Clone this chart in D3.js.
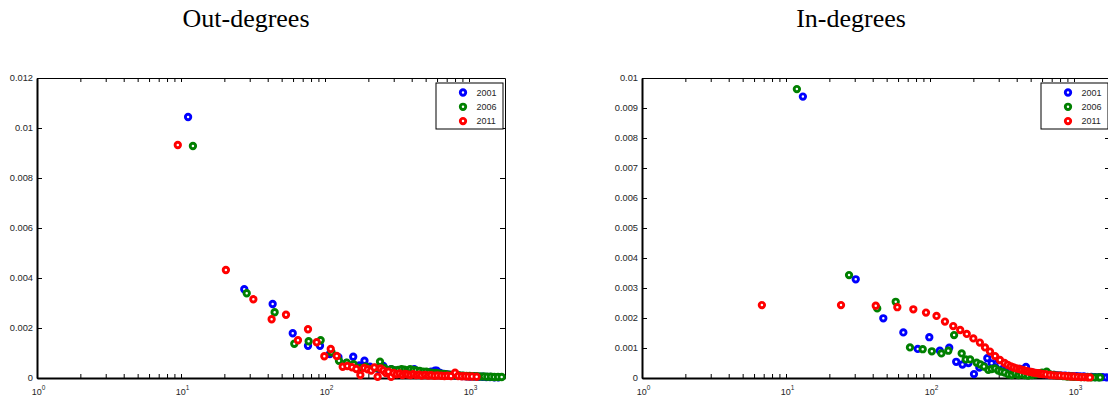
<!DOCTYPE html>
<html>
<head>
<meta charset="utf-8">
<script src="https://cdn.jsdelivr.net/npm/d3@7"></script>
<style>
  html, body { margin: 0; padding: 0; background: #fff; }
  svg { display: block; }
</style>
</head>
<body>
<svg id="chart" width="1108" height="396"></svg>
<script>
// ---------- data ----------
const years = ["2001", "2006", "2011"];
const colors = ["#0000ff", "#008000", "#ff0000"];
const titles = ["Out-degrees", "In-degrees"];
const xTickExponents = [0, 1, 2, 3];
const outYTicks = [0, 0.002, 0.004, 0.006, 0.008, 0.01, 0.012];
const outYTickLabels = ["0", "0.002", "0.004", "0.006", "0.008", "0.01", "0.012"];
const inYTicks = [0, 0.001, 0.002, 0.003, 0.004, 0.005, 0.006, 0.007, 0.008, 0.009, 0.01];
const inYTickLabels = ["0", "0.001", "0.002", "0.003", "0.004", "0.005", "0.006", "0.007", "0.008", "0.009", "0.01"];

// Out-degrees [degree, fraction]
const out2001 = [[11.2,0.01044],[27.5,0.00355],[43.3,0.00296],[59.7,0.00179],[76.2,0.00129],[92.3,0.00129],[108,0.00096],[124,0.00083],[141,0.0006],[157,0.00085],[173,0.0005],[188,0.00069],[205,0.00045],[221,0.0004],[237,0.00035],[254,0.00048],[270,0.0003],[287,0.00035],[303,0.0003],[320,0.00028],[340,0.00025],[360,0.00022],[380,0.00025],[400,0.00029],[417,0.00035],[440,0.00025],[465,0.00022],[490,0.0002],[515,0.00022],[545,0.00025],[580,0.00029],[597,0.00029],[630,0.0002],[670,0.00016],[710,0.00014],[750,0.00012],[800,0.0001],[850,0.00009],[900,0.00008],[960,0.00007],[1020,0.00006],[1090,0.00006],[1160,0.00005],[1240,0.00005],[1320,0.00004],[1400,0.00004],[1500,0.00003],[1600,0.00003]];
const out2006 = [[12.1,0.00928],[28.6,0.00339],[44.7,0.00263],[61.2,0.00137],[77,0.00147],[93.3,0.00151],[111,0.00103],[125,0.00069],[141.6,0.00061],[158,0.00055],[175,0.0004],[192,0.00045],[208,0.00035],[225,0.0004],[241,0.00065],[258,0.0004],[274,0.0003],[290,0.00035],[307,0.0003],[323,0.00032],[340,0.00035],[356,0.00033],[372,0.0003],[390,0.00035],[410,0.00032],[430,0.0003],[455,0.00028],[480,0.00025],[505,0.00025],[530,0.00022],[560,0.0002],[590,0.0002],[620,0.00018],[655,0.00016],[690,0.00015],[730,0.00013],[770,0.00012],[810,0.0001],[860,0.0001],[910,0.00009],[960,0.00008],[1010,0.00008],[1070,0.00007],[1130,0.00007],[1200,0.00006],[1270,0.00006],[1340,0.00005],[1420,0.00005],[1500,0.00004],[1590,0.00004],[1686,0.00004]];
const out2011 = [[9.5,0.00932],[20.5,0.00432],[31.8,0.00315],[42.6,0.00235],[53.6,0.00253],[64.9,0.00151],[76.2,0.00195],[87.5,0.00143],[98.9,0.00087],[109.6,0.00116],[120.6,0.00088],[132.7,0.00045],[143,0.00048],[154,0.00043],[165,0.00036],[176,0.00012],[187,0.0004],[198,0.00035],[209,0.0003],[220,0.00042],[232,0.00005],[243,0.00038],[254,0.0003],[265,0.0002],[276,0.00025],[288,0.00005],[300,0.0002],[315,0.00015],[330,0.00018],[345,0.00012],[360,0.00016],[375,0.00014],[392,0.00012],[410,0.00015],[430,0.00012],[450,0.00013],[470,0.0001],[495,0.00012],[520,0.0001],[545,0.00011],[575,0.00009],[605,0.0001],[640,0.00009],[675,0.00008],[710,0.00009],[750,0.00008],[800,0.00021],[840,0.00008],[890,0.00007],[940,0.00007],[990,0.00006],[1050,0.00006],[1130,0.00005]];

// In-degrees [degree, fraction]
const in2001 = [[13.1,0.00938],[30.5,0.00329],[47.4,0.00199],[65.3,0.00152],[82.2,0.00097],[98.9,0.00136],[117,0.00091],[136,0.00101],[152,0.00054],[168,0.00045],[185,0.0005],[202,0.00013],[220,0.00035],[236,0.0004],[250,0.00066],[268,0.00049],[285,0.00035],[300,0.0006],[320,0.0003],[340,0.00025],[360,0.00022],[380,0.0002],[400,0.00022],[420,0.0003],[440,0.00025],[464,0.00037],[490,0.0002],[520,0.00018],[550,0.00015],[580,0.00014],[615,0.00013],[650,0.00012],[690,0.0001],[730,0.0001],[770,0.00009],[820,0.00008],[870,0.00008],[920,0.00007],[980,0.00006],[1040,0.00006],[1100,0.00005],[1170,0.00005],[1240,0.00004],[1320,0.00004],[1400,0.00003],[1490,0.00003],[1580,0.00003],[1680,0.00002],[1780,0.00002]];
const in2006 = [[11.9,0.00963],[27.4,0.00343],[43,0.00232],[57.8,0.00254],[72.6,0.00102],[89,0.00096],[103,0.00089],[120,0.00082],[134,0.00091],[147,0.00143],[166,0.00082],[177,0.00062],[190,0.00062],[211,0.00051],[224,0.00045],[237,0.00038],[254,0.00027],[268,0.0003],[283,0.00032],[298,0.00025],[313,0.00021],[330,0.00018],[350,0.00012],[370,0.0001],[390,0.00015],[410,0.0001],[430,0.00012],[455,0.0001],[480,0.00008],[510,0.0001],[540,0.00012],[570,0.00015],[600,0.00018],[646,0.00021],[680,0.00012],[720,0.0001],[760,0.00008],[800,0.00008],[850,0.00006],[900,0.00005],[950,0.00005],[1000,0.00004],[1060,0.00004],[1120,0.00003],[1180,0.00003],[1250,0.00003],[1320,0.00002],[1400,0.00002],[1480,0.00002],[1520,0.00002]];
const in2011 = [[6.8,0.00243],[24.1,0.00243],[42,0.00241],[59.3,0.00236],[76.6,0.00229],[93.8,0.00218],[111,0.00207],[127,0.00188],[145,0.00173],[162,0.0016],[180,0.00147],[200,0.00132],[222,0.00118],[241,0.00102],[261,0.00088],[283,0.00073],[306,0.0006],[329,0.0005],[346,0.00044],[364,0.00039],[381,0.00035],[399,0.00032],[417,0.0003],[434,0.00027],[452,0.00025],[469,0.00023],[487,0.00021],[505,0.0002],[522,0.00018],[540,0.00017],[557,0.00016],[575,0.00015],[593,0.00014],[610,0.00013],[640,0.00012],[680,0.0001],[720,0.00009],[760,0.00008],[800,0.00008],[850,0.00007],[900,0.00006],[950,0.00005],[1000,0.00005],[1060,0.00004],[1120,0.00003],[1180,0.00003],[1240,0.00002],[1290,0.00002]];

// ---------- drawing ----------
const svg = d3.select("#chart");
const xMax = Math.pow(10, 3.25);
const tickFont = '"Liberation Sans", Arial, Helvetica, sans-serif';
const textColor = "#262626";
const markerR = 2.7, markerW = 2.9;

const panels = [
  { title: titles[0], titleX: 246, left: 37, right: 505, yMax: 0.012,
    yTicks: outYTicks, yLabels: outYTickLabels, series: [out2001, out2006, out2011],
    legendX: 436 },
  { title: titles[1], titleX: 851, left: 642, right: 1110, yMax: 0.01,
    yTicks: inYTicks, yLabels: inYTickLabels, series: [in2001, in2006, in2011],
    legendX: 1041 }
];
const plotTop = 78, plotBottom = 378;

// minor + major log ticks
const allXTicks = [];
xTickExponents.forEach(e => {
  for (let m = 1; m <= 9; m++) {
    const v = m * Math.pow(10, e);
    if (v <= xMax) allXTicks.push(v);
  }
});

panels.forEach(p => {
  const x = d3.scaleLog().domain([1, xMax]).range([p.left, p.right]);
  const y = d3.scaleLinear().domain([0, p.yMax]).range([plotBottom, plotTop]);

  // title
  svg.append("text")
    .attr("x", p.titleX).attr("y", 27)
    .attr("text-anchor", "middle")
    .attr("font-family", '"Liberation Serif", "Times New Roman", serif')
    .attr("font-size", 26)
    .attr("fill", "#000")
    .text(p.title);

  const g = svg.append("g");

  // bottom axis (ticks inward)
  const bx = g.append("g").attr("transform", `translate(0,${plotBottom})`)
    .call(d3.axisBottom(x).tickValues(allXTicks).tickSizeInner(-4).tickSizeOuter(0).tickFormat(""));
  bx.select(".domain").attr("stroke", "#000").attr("stroke-width", 2);
  bx.selectAll(".tick line").attr("stroke", "#000").attr("stroke-width", 1);

  // top axis
  const tx = g.append("g").attr("transform", `translate(0,${plotTop})`)
    .call(d3.axisTop(x).tickValues(allXTicks).tickSizeInner(-4).tickSizeOuter(0).tickFormat(""));
  tx.select(".domain").attr("stroke", "#000").attr("stroke-width", 1);
  tx.selectAll(".tick line").attr("stroke", "#000").attr("stroke-width", 1);

  // left axis
  const ly = g.append("g").attr("transform", `translate(${p.left},0)`)
    .call(d3.axisLeft(y).tickValues(p.yTicks).tickSizeInner(-5).tickSizeOuter(0).tickPadding(4)
      .tickFormat((d, i) => p.yLabels[i]));
  ly.select(".domain").attr("stroke", "#000").attr("stroke-width", 2);
  ly.selectAll(".tick line").attr("stroke", "#000").attr("stroke-width", 1);
  ly.selectAll(".tick text").attr("font-size", 9.3).attr("fill", textColor).attr("font-family", tickFont);

  // right axis
  const ry = g.append("g").attr("transform", `translate(${p.right},0)`)
    .call(d3.axisRight(y).tickValues(p.yTicks).tickSizeInner(-5).tickSizeOuter(0).tickFormat(""));
  ry.select(".domain").attr("stroke", "#000").attr("stroke-width", 1);
  ry.selectAll(".tick line").attr("stroke", "#000").attr("stroke-width", 1);

  // x tick labels 10^k
  xTickExponents.forEach(e => {
    const t = g.append("text")
      .attr("x", x(Math.pow(10, e)) + 1.5).attr("y", 395)
      .attr("text-anchor", "middle")
      .attr("font-family", tickFont).attr("font-size", 9)
      .attr("fill", textColor);
    t.append("tspan").text("10");
    t.append("tspan").attr("dy", -5).attr("font-size", 6.5).text(String(e));
  });

  // points
  p.series.forEach((s, si) => {
    g.append("g").selectAll("circle").data(s).join("circle")
      .attr("cx", d => x(d[0]))
      .attr("cy", d => y(d[1]))
      .attr("r", markerR)
      .attr("fill", "#fff")
      .attr("stroke", colors[si])
      .attr("stroke-width", markerW);
  });

  // legend
  const lg = g.append("g").attr("transform", `translate(${p.legendX},83)`);
  lg.append("rect").attr("x", 0).attr("y", 0).attr("width", 67).attr("height", 46)
    .attr("fill", "#fff").attr("stroke", "#000").attr("stroke-width", 1);
  years.forEach((yr, i) => {
    const cy = 9.5 + i * 14.3;
    lg.append("circle").attr("cx", 27).attr("cy", cy).attr("r", markerR)
      .attr("fill", "#fff").attr("stroke", colors[i]).attr("stroke-width", markerW);
    lg.append("text").attr("x", 40.5).attr("y", cy + 3.3)
      .attr("font-family", tickFont).attr("font-size", 9).attr("fill", textColor)
      .text(yr);
  });
});
</script>
</body>
</html>
